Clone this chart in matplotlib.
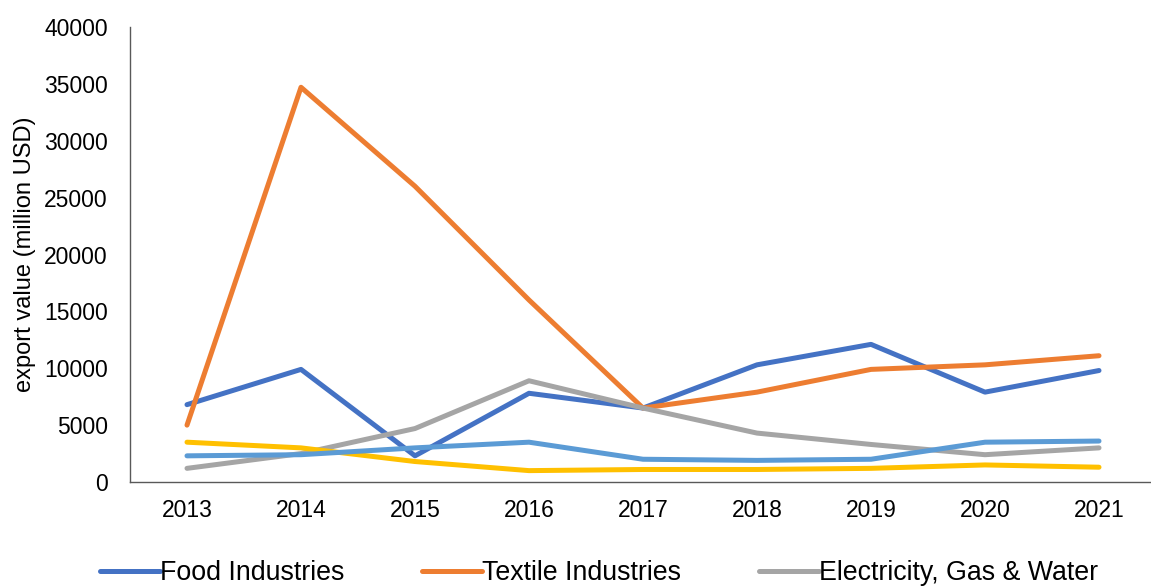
import matplotlib
matplotlib.use("Agg")
import matplotlib.pyplot as plt

years = ["2013", "2014", "2015", "2016", "2017", "2018", "2019", "2020", "2021"]
food = [6800, 9900, 2300, 7800, 6500, 10300, 12100, 7900, 9800]
textile = [5000, 34700, 26000, 16000, 6500, 7900, 9900, 10300, 11100]
electricity = [1200, 2500, 4700, 8900, 6500, 4300, 3300, 2400, 3000]
series4 = [3500, 3000, 1800, 1000, 1100, 1100, 1200, 1500, 1300]
series5 = [2300, 2400, 3000, 3500, 2000, 1900, 2000, 3500, 3600]

names = ["Food Industries", "Textile Industries", "Electricity, Gas & Water"]
colors = ["#4472C4", "#ED7D31", "#A5A5A5", "#FFC000", "#5B9BD5"]

plt.rcParams['font.family'] = ['Liberation Sans', 'DejaVu Sans']

fig = plt.figure(figsize=(11.51, 5.86), dpi=100)
ax = fig.add_axes([130/1151, 1-482/586, 1026/1151, 455/586])

x = list(range(len(years)))
handles = []
for data, c in zip([food, textile, electricity, series4, series5], colors):
    h, = ax.plot(x, data, color=c, lw=3.6, solid_capstyle='round', solid_joinstyle='round')
    handles.append(h)

ax.set_xlim(-0.5, 8.5)
ax.set_ylim(0, 40000)
ax.set_yticks(range(0, 40001, 5000))
ax.set_xticks(x)
ax.set_xticklabels(years)
ax.tick_params(axis='both', length=0, labelsize=16.5, colors='black')
ax.tick_params(axis='y', pad=16)
ax.tick_params(axis='x', pad=12)
for s in ['top', 'right']:
    ax.spines[s].set_visible(False)
ax.spines['left'].set_color('#595959')
ax.spines['bottom'].set_color('#595959')
ax.spines['left'].set_linewidth(1.0)
ax.spines['bottom'].set_linewidth(1.0)
ax.set_ylabel("export value (million USD)", fontsize=17, labelpad=6)

fig.legend(handles[:3], names,
           loc='center left', bbox_to_anchor=(100/1151, 1-573/586), ncol=3,
           frameon=False, fontsize=19.3, handlelength=2.24, handletextpad=0.0,
           columnspacing=2.9, borderaxespad=0, borderpad=0)

fig.savefig("out.png", dpi=100)
